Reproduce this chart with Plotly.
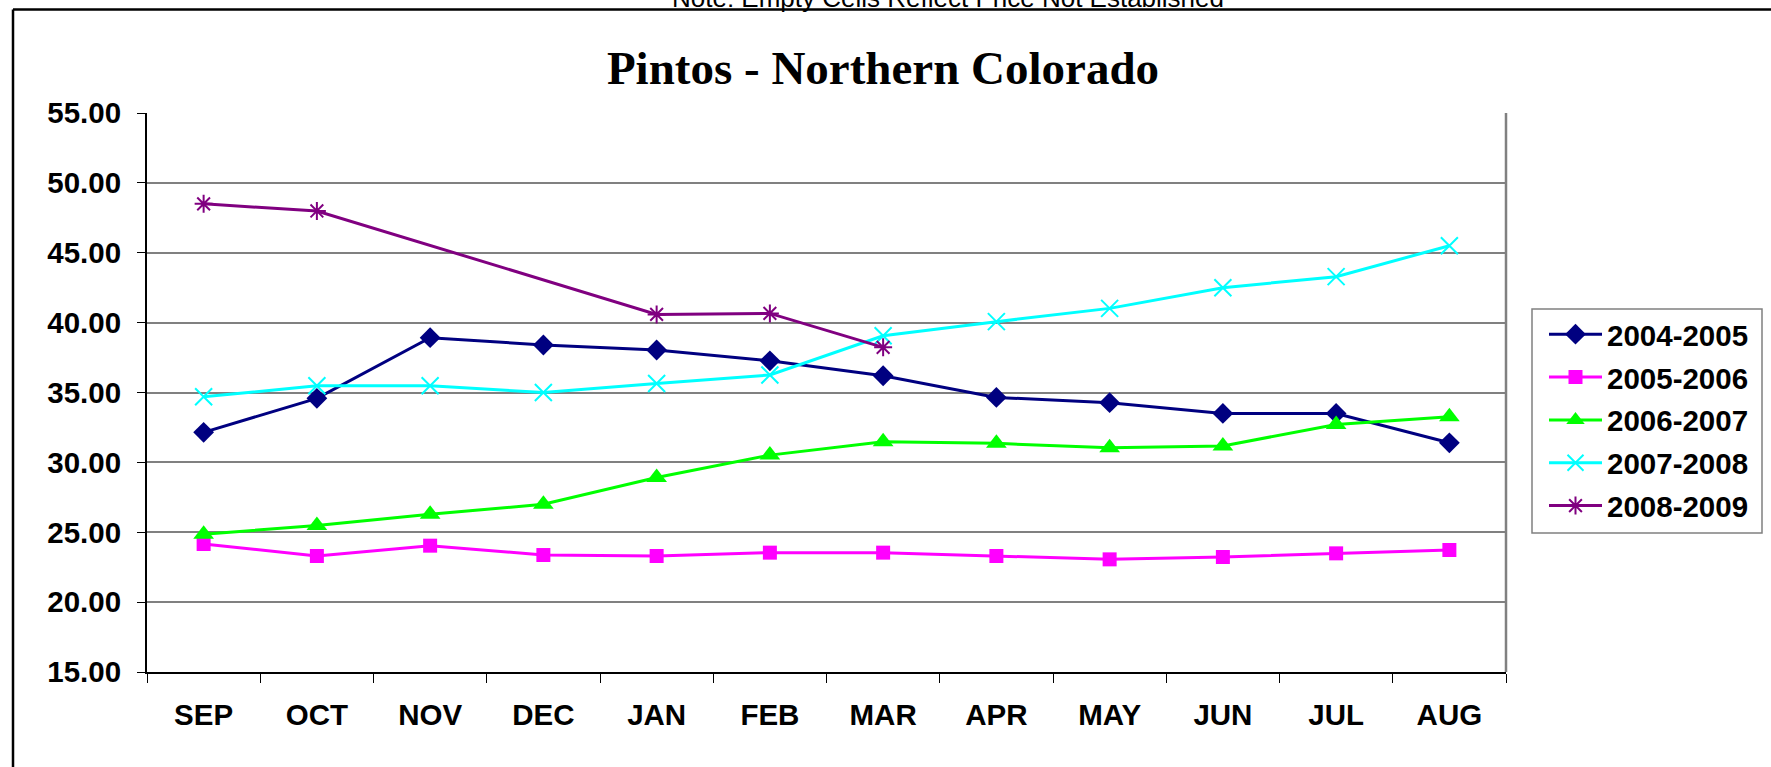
import plotly.graph_objects as go

months = ["SEP", "OCT", "NOV", "DEC", "JAN", "FEB", "MAR", "APR", "MAY", "JUN", "JUL", "AUG"]
s_2004_2005 = [32.15, 34.58, 38.92, 38.40, 38.04, 37.27, 36.20, 34.65, 34.27, 33.50, 33.50, 31.40]
s_2005_2006 = [24.16, 23.30, 24.04, 23.37, 23.30, 23.54, 23.54, 23.30, 23.06, 23.23, 23.49, 23.73]
s_2006_2007 = [24.86, 25.48, 26.29, 27.00, 28.92, 30.52, 31.48, 31.36, 31.04, 31.18, 32.71, 33.26]
s_2007_2008 = [34.69, 35.48, 35.48, 35.00, 35.65, 36.25, 39.06, 40.07, 41.02, 42.50, 43.29, 45.50]
s_2008_2009 = [48.50, 47.99, None, None, 40.59, 40.66, 38.23, None, None, None, None, None]
series_names = ["2004-2005", "2005-2006", "2006-2007", "2007-2008", "2008-2009"]
title_text = "Pintos - Northern Colorado"
note_text = "Note: Empty Cells Reflect Price Not Established"

W, H = 1771, 767
L, R, T, B = 147, 1506, 113, 672


def px(x):
    return (x - L) / (R - L)


def py(y):
    return (B - y) / (B - T)


styles = [
    dict(color="#000080", symbol="diamond", size=16, lc="#000080"),
    dict(color="#FF00FF", symbol="square", size=14, lc="#FF00FF"),
    dict(color="#00FF00", symbol="triangle-up", size=18, lc="#00FF00"),
    dict(color="rgba(0,0,0,0)", symbol="x-thin", size=17, lc="#00FFFF"),
    dict(color="rgba(0,0,0,0)", symbol="asterisk", size=15, lc="#800080"),
]
line_colors = ["#000080", "#FF00FF", "#00FF00", "#00FFFF", "#800080"]
all_series = [s_2004_2005, s_2005_2006, s_2006_2007, s_2007_2008, s_2008_2009]

fig = go.Figure()
for i, (name, vals) in enumerate(zip(series_names, all_series)):
    st = styles[i]
    fig.add_trace(go.Scatter(
        x=months, y=vals, name=name, mode="lines+markers",
        connectgaps=True, legendgroup=name,
        line=dict(color=line_colors[i], width=3),
        marker=dict(symbol=st["symbol"], size=st["size"], color=st["color"],
                    line=dict(color=st["lc"], width=2 if i >= 3 else 0)),
    ))

fig.update_layout(
    width=W, height=H,
    margin=dict(l=L, r=W - R, t=T, b=H - B),
    paper_bgcolor="white", plot_bgcolor="white",
    font=dict(family="Liberation Sans, Arial, sans-serif", color="black"),
    title=dict(text="<b>" + title_text + "</b>", x=px(883), xref="paper", xanchor="center",
               y=1 - 68 / H, yanchor="middle",
               font=dict(family="Liberation Serif, Times New Roman, serif", size=47, color="black")),
    showlegend=True,
    legend=dict(x=px(1544), y=py(308.5), xanchor="left", yanchor="top",
                borderwidth=0, bgcolor="rgba(0,0,0,0)",
                font=dict(size=29.5, family="Liberation Sans, Arial, sans-serif", color="black", weight="bold"),
                itemwidth=53, tracegroupgap=1.5, traceorder="grouped"),
)

fig.update_xaxes(
    type="category", range=[-0.5, 11.5], autorange=False,
    showgrid=False, showline=True, linecolor="black", linewidth=2,
    ticks="outside", tickson="boundaries", ticklen=9, tickcolor="black", tickwidth=1,
    tickfont=dict(size=29.5, weight="bold"), ticklabelstandoff=16,
)
fig.update_yaxes(
    range=[15, 55], dtick=5, tickformat=".2f", showgrid=True, gridcolor="#808080", gridwidth=1.5,
    showline=True, linecolor="black", linewidth=2, zeroline=False,
    ticks="outside", ticklen=8, tickcolor="black", tickwidth=1,
    tickfont=dict(size=29.5, weight="bold"), ticklabelstandoff=10,
)

shapes = [
    # plot area right border
    dict(type="line", xref="paper", yref="paper", x0=1, x1=1, y0=0, y1=1,
         line=dict(color="#808080", width=2.5)),
    # legend frame
    dict(type="rect", xref="paper", yref="paper", x0=px(1532), x1=px(1762), y0=py(533), y1=py(309),
         line=dict(color="#808080", width=1.5), fillcolor="rgba(0,0,0,0)", layer="below"),
    # outer chart border (top and left)
    dict(type="line", xref="paper", yref="paper", x0=px(13), x1=px(W + 5), y0=py(9.5), y1=py(9.5),
         line=dict(color="black", width=2.5)),
    dict(type="line", xref="paper", yref="paper", x0=px(13), x1=px(13), y0=py(9.5), y1=py(H + 5),
         line=dict(color="black", width=2.5)),
]
fig.update_layout(shapes=shapes)

fig.add_annotation(text=note_text, xref="paper", yref="paper", x=px(948), y=py(-2),
                   xanchor="center", yanchor="middle", showarrow=False,
                   font=dict(size=26, family="Liberation Sans, Arial, sans-serif", color="black"))

fig.write_html("out.html", config={"displayModeBar": False},
               post_script="document.body.style.margin='0';")
